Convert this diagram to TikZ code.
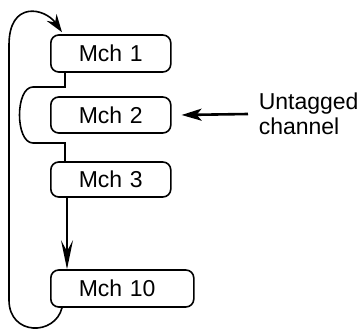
\documentclass[tikz,border=0pt]{standalone}
\usepackage{fontspec}
\setmainfont{Liberation Sans}
\usetikzlibrary{arrows.meta}
\begin{document}
\begin{tikzpicture}[x=1pt,y=-1pt,
  line width=1.6pt,
  mbox/.style={draw, rounded corners=8pt, anchor=west, inner xsep=28pt, inner ysep=0pt,
    minimum height=37pt, align=left, font=\fontsize{23}{25}\selectfont},
  conn/.style={line width=1.6pt},
  lbl/.style={anchor=north west, inner sep=0pt, align=left, font=\fontsize{23}{25}\selectfont}]
\useasboundingbox (0,0) rectangle (364,331);
\node[mbox, text width=64pt] (m1) at (50,53.5) {Mch 1};
\node[mbox, text width=64pt, minimum height=36pt] (m2) at (50,115) {Mch 2};
\node[mbox, text width=64pt, minimum height=35pt] (m3) at (50,179.5) {Mch 3};
\node[mbox, text width=87pt] (m10) at (50,288.5) {Mch 10};
\node[lbl] (ut) at (258,92) {Untagged\\channel};
\coordinate (ua) at (248,114);
% bypass around Mch 2
\draw[conn] ([xshift=15pt]m1.south west) -- (65,87) -- (33,87)
  .. controls (15,87) and (15,143) .. (33,143) -- (65,143) -- ([xshift=15pt]m3.north west);
% Mch 3 to Mch 10
\draw[conn, -{Stealth[length=29pt,width=12pt,inset=11pt]}] ([xshift=17pt]m3.south west) -- ([xshift=17pt]m10.north west);
% loop back
\draw[conn, -{Stealth[length=18pt,width=12pt,inset=6pt]}] ([xshift=12pt]m10.south west)
  .. controls (55,336) and (9,336) .. (9,300) -- (9,45)
  .. controls (9,0) and (45,8) .. ([xshift=12pt,yshift=2pt]m1.north west);
% untagged arrow
\draw[line width=2.6pt, -{Stealth[length=20pt,width=12pt,inset=5pt]}] (ua) -- ([xshift=10pt]m2.east);
\end{tikzpicture}
\end{document}
